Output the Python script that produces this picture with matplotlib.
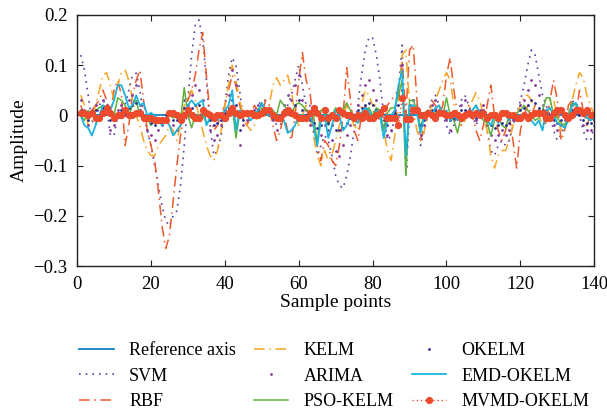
import numpy as np
import matplotlib
matplotlib.use('Agg')
import matplotlib.pyplot as plt

plt.rcParams['font.family'] = ['Liberation Serif', 'DejaVu Serif']

# ── Data ──────────────────────────────────────────────────────────────────────
x = np.arange(1, 141)

svm = [0.12, 0.09, 0.04, -0.01, -0.02, 0.02, 0.03, 0.02, -0.04, -0.04,
       0.0, 0.01, 0.02, 0.05, 0.08, 0.084, 0.05, 0.0, -0.03, -0.06,
       -0.1, -0.14, -0.18, -0.21, -0.22, -0.2, -0.19, -0.14, -0.06, 0.03,
       0.12, 0.18, 0.19, 0.15, 0.07, -0.02, -0.08, -0.07, -0.04, 0.02,
       0.08, 0.115, 0.1, 0.05, -0.01, -0.02, 0.0, 0.01, 0.02, 0.03,
       0.03, 0.02, 0.0, -0.02, -0.02, 0.0, 0.02, 0.04, 0.07, 0.1,
       0.06, 0.02, 0.02, -0.03, -0.08, -0.06, -0.04, -0.05, -0.08, -0.12,
       -0.14, -0.145, -0.12, -0.08, -0.03, 0.02, 0.08, 0.13, 0.155, 0.155,
       0.12, 0.07, 0.0, -0.05, -0.04, 0.0, 0.05, 0.14, -0.12, 0.0,
       0.03, 0.02, -0.06, -0.03, 0.0, 0.03, 0.04, 0.02, 0.0, -0.02,
       -0.04, -0.02, 0.0, 0.03, 0.04, 0.02, 0.0, -0.02, 0.0, 0.02,
       -0.03, -0.07, -0.08, -0.06, -0.05, -0.06, -0.05, -0.02, 0.0, 0.03,
       0.06, 0.1, 0.13, 0.12, 0.08, 0.04, 0.02, 0.0, -0.03, -0.05,
       -0.04, -0.02, 0.0, 0.03, 0.02, 0.0, -0.03, -0.05, -0.05, -0.02]

rbf = [0.02, 0.0, 0.0, 0.01, 0.02, 0.03, 0.05, 0.03, 0.0, 0.05,
       0.07, 0.04, -0.06, -0.02, 0.04, 0.07, 0.09, 0.03, -0.03, -0.06,
       -0.09, -0.15, -0.22, -0.265, -0.24, -0.17, -0.1, -0.04, 0.0, 0.03,
       0.05, 0.08, 0.13, 0.165, 0.08, 0.0, -0.03, -0.02, 0.0, 0.02,
       0.05, 0.08, 0.06, 0.02, 0.0, -0.02, 0.0, 0.02, 0.01, 0.0,
       0.03, 0.02, -0.02, -0.05, -0.03, 0.0, -0.03, -0.05, 0.0, 0.07,
       0.125, 0.07, 0.05, -0.02, -0.06, -0.09, -0.05, -0.06, -0.09, -0.1,
       -0.06, 0.0, 0.095, 0.03, -0.03, -0.05, 0.0, 0.02, 0.0, 0.01,
       0.0, -0.01, 0.0, 0.02, 0.03, 0.04, 0.05, 0.11, 0.0, 0.13,
       0.14, 0.03, -0.05, -0.02, 0.0, 0.03, 0.02, 0.0, 0.02, 0.08,
       0.115, 0.05, 0.0, -0.02, 0.0, 0.02, 0.0, -0.03, -0.05, -0.02,
       0.02, 0.06, 0.0, -0.03, -0.05, -0.03, 0.0, -0.05, -0.105, -0.03,
       0.0, 0.02, 0.0, 0.02, 0.01, 0.0, -0.02, 0.03, 0.07, 0.03,
       -0.05, -0.03, 0.02, 0.03, 0.0, 0.05, 0.01, -0.02, 0.0, 0.01]

kelm = [0.04, 0.02, -0.02, -0.01, 0.02, 0.05, 0.08, 0.085, 0.06, 0.03,
        0.06, 0.085, 0.09, 0.07, 0.03, 0.0, -0.02, -0.05, -0.07, -0.08,
        -0.08, -0.06, -0.05, -0.04, -0.02, -0.03, -0.05, -0.02, 0.02, 0.04,
        0.05, 0.03, 0.0, -0.03, -0.06, -0.08, -0.09, -0.07, -0.03, 0.02,
        0.06, 0.1, 0.07, 0.03, 0.0, -0.02, -0.03, -0.02, 0.0, 0.02,
        0.0, 0.02, 0.06, 0.075, 0.06, 0.07, 0.08, 0.05, 0.0, -0.02,
        0.0, 0.02, 0.0, -0.04, -0.08, -0.1, -0.07, -0.09, -0.08, -0.05,
        -0.02, 0.0, 0.02, 0.0, -0.02, -0.03, 0.02, 0.05, 0.04, 0.02,
        0.02, 0.0, -0.03, -0.07, -0.09, -0.04, 0.02, 0.12, 0.13, 0.02,
        0.01, -0.03, -0.05, -0.03, 0.0, 0.02, 0.03, 0.05, 0.07, 0.085,
        0.07, 0.02, -0.01, -0.02, -0.01, 0.01, 0.03, 0.045, 0.03, 0.0,
        -0.03, -0.08, -0.105, -0.08, -0.07, -0.07, -0.05, -0.02, 0.0, 0.02,
        0.04, 0.04, 0.03, 0.01, 0.0, -0.02, 0.0, 0.02, 0.03, 0.0,
        -0.03, -0.02, 0.0, 0.03, 0.06, 0.085, 0.075, 0.04, 0.02, 0.0]

arima = [0.03, 0.01, -0.02, 0.01, 0.02, 0.0, 0.03, 0.02, -0.03, -0.02,
         0.01, 0.02, 0.0, 0.03, 0.04, 0.06, 0.02, -0.01, -0.03, -0.04,
         -0.05, -0.03, -0.02, -0.01, 0.0, -0.02, -0.03, 0.0, 0.03, 0.02,
         0.04, 0.06, 0.05, 0.03, 0.0, -0.03, -0.05, -0.04, -0.02, 0.01,
         0.04, 0.09, 0.06, -0.06, -0.02, -0.01, 0.0, 0.01, 0.02, 0.02,
         0.01, 0.0, -0.01, -0.03, -0.01, 0.02, 0.04, 0.03, 0.06, 0.08,
         0.03, 0.01, -0.02, -0.03, -0.05, -0.04, -0.02, -0.03, -0.05, -0.07,
         -0.08, -0.06, -0.04, -0.02, 0.0, 0.02, 0.04, 0.06, 0.07, 0.05,
         0.03, 0.01, -0.02, -0.04, -0.03, 0.01, 0.04, 0.1, -0.1, 0.02,
         0.03, 0.01, -0.04, -0.02, 0.0, 0.02, 0.03, 0.01, 0.0, -0.01,
         -0.03, -0.01, 0.0, 0.02, 0.03, 0.01, 0.0, -0.01, 0.01, 0.02,
         -0.02, -0.04, -0.05, -0.04, -0.03, -0.04, -0.03, -0.01, 0.0, 0.02,
         0.03, 0.05, 0.07, 0.06, 0.04, 0.02, 0.01, 0.0, -0.02, -0.03,
         -0.02, -0.01, 0.0, 0.02, 0.01, 0.0, -0.02, -0.03, -0.03, -0.01]

pso_kelm = [0.0, -0.01, 0.01, 0.0, 0.01, 0.015, 0.02, 0.015, 0.005, 0.0,
            0.035, 0.03, 0.02, 0.0, 0.02, 0.03, 0.0, -0.01, -0.005, -0.02,
            -0.01, -0.005, -0.015, -0.01, 0.0, -0.005, 0.0, -0.01, 0.055, 0.0,
            -0.025, 0.0, -0.01, 0.0, -0.015, -0.01, 0.0, -0.005, 0.0, 0.0,
            0.01, 0.02, -0.045, 0.005, 0.0, 0.005, 0.0, 0.005, 0.01, 0.015,
            0.0, 0.005, 0.01, 0.0, 0.03, 0.02, 0.01, 0.0, 0.02, 0.025,
            0.02, 0.01, 0.005, 0.0, -0.055, 0.01, 0.015, -0.02, 0.0, 0.015,
            0.0, 0.01, 0.025, 0.01, -0.01, 0.0, 0.005, 0.01, 0.015, 0.0,
            0.015, 0.01, -0.03, 0.005, 0.015, 0.015, 0.04, 0.07, -0.12, 0.03,
            0.03, 0.01, -0.025, 0.005, 0.01, 0.0, 0.005, 0.01, 0.0, 0.035,
            0.0, -0.01, -0.035, 0.0, -0.005, 0.0, 0.01, 0.02, 0.0, -0.01,
            -0.015, -0.04, -0.01, -0.005, -0.02, -0.025, 0.0, 0.0, 0.005, 0.01,
            0.02, 0.01, 0.0, -0.01, -0.005, 0.01, 0.035, 0.035, 0.0, -0.005,
            -0.015, -0.02, 0.0, 0.025, 0.02, 0.005, 0.0, -0.005, 0.0, 0.0]

okelm = [0.01, 0.0, -0.01, 0.005, 0.01, 0.0, 0.015, 0.01, -0.01, -0.005,
         0.0, 0.01, 0.005, 0.015, 0.02, 0.025, 0.01, -0.005, -0.01, -0.015,
         -0.02, -0.01, -0.01, 0.0, 0.005, -0.01, -0.01, 0.0, 0.015, 0.01,
         0.015, 0.02, 0.02, 0.01, 0.0, -0.01, -0.02, -0.015, -0.01, 0.005,
         0.015, 0.03, 0.02, -0.03, -0.01, 0.0, 0.005, 0.005, 0.01, 0.01,
         0.005, 0.0, -0.005, -0.01, 0.0, 0.01, 0.015, 0.01, 0.02, 0.03,
         0.01, 0.0, -0.01, -0.015, -0.025, -0.02, -0.01, -0.015, -0.02, -0.03,
         -0.03, -0.025, -0.015, -0.005, 0.0, 0.01, 0.015, 0.02, 0.025, 0.02,
         0.01, 0.005, -0.01, -0.02, -0.01, 0.005, 0.02, 0.05, -0.06, 0.01,
         0.015, 0.005, -0.02, -0.01, 0.0, 0.01, 0.01, 0.005, 0.0, -0.005,
         -0.01, -0.005, 0.0, 0.01, 0.01, 0.005, 0.0, -0.005, 0.005, 0.01,
         -0.01, -0.02, -0.025, -0.02, -0.015, -0.02, -0.015, -0.005, 0.0, 0.01,
         0.015, 0.02, 0.03, 0.025, 0.015, 0.01, 0.005, 0.0, -0.01, -0.015,
         -0.01, -0.005, 0.0, 0.01, 0.005, 0.0, -0.01, -0.015, -0.015, -0.005]

emd_okelm = [0.0, -0.02, -0.025, -0.04, -0.02, 0.0, 0.02, 0.015, 0.01, 0.03,
             0.06, 0.06, 0.04, 0.015, 0.02, 0.04, 0.02, 0.025, 0.0, 0.005,
             0.0, -0.01, -0.02, -0.01, -0.02, -0.04, -0.03, -0.02, 0.0, 0.02,
             0.03, 0.02, 0.025, 0.03, -0.02, -0.005, 0.0, -0.01, 0.0, 0.01,
             0.02, 0.05, -0.03, 0.01, 0.005, 0.0, -0.01, 0.0, 0.01, 0.025,
             0.01, 0.0, -0.005, -0.01, 0.0, -0.01, -0.035, -0.03, -0.02, 0.0,
             0.0, -0.01, 0.0, -0.02, -0.06, -0.01, 0.0, -0.045, -0.02, 0.01,
             0.0, -0.03, -0.02, 0.0, -0.01, -0.015, 0.005, 0.015, 0.01, -0.01,
             0.01, 0.0, -0.045, -0.01, 0.0, 0.01, 0.06, 0.09, -0.08, 0.02,
             0.02, 0.005, -0.035, 0.0, 0.01, 0.0, 0.015, 0.02, 0.0, 0.01,
             -0.01, 0.0, -0.01, 0.0, -0.005, 0.005, 0.01, 0.02, 0.005, 0.0,
             -0.01, -0.02, 0.0, -0.015, 0.005, 0.0, -0.01, 0.0, 0.0, 0.0,
             0.0, 0.0, -0.01, -0.02, -0.01, -0.03, 0.01, 0.015, 0.0, -0.015,
             -0.02, -0.025, -0.01, 0.02, 0.025, 0.01, 0.005, -0.005, -0.01, -0.005]

mvmd_okelm = [0.005, 0.005, 0.0, 0.005, -0.005, -0.005, 0.005, 0.015, 0.005, -0.005,
              0.0, 0.0, 0.01, 0.0, 0.0, 0.005, 0.005, -0.005, -0.005, -0.005,
              -0.01, -0.01, -0.01, -0.01, 0.005, 0.005, 0.0, -0.01, 0.0, 0.01,
              0.0, -0.005, -0.005, 0.01, 0.005, 0.0, -0.005, 0.0, 0.0, -0.005,
              0.005, 0.015, 0.005, 0.0, 0.005, 0.005, 0.005, 0.0, 0.0, 0.005,
              0.01, 0.01, 0.0, -0.005, -0.005, 0.005, 0.01, 0.005, 0.0, -0.005,
              -0.005, -0.005, 0.005, 0.015, 0.005, -0.005, 0.01, -0.005, 0.0, -0.005,
              0.01, 0.005, 0.0, 0.0, -0.005, 0.0, -0.005, 0.005, -0.005, -0.005,
              0.0, 0.005, 0.015, -0.005, -0.005, -0.005, -0.02, 0.035, -0.008, -0.008,
              0.01, 0.01, 0.0, 0.0, 0.005, 0.0, -0.005, 0.005, 0.005, 0.0,
              0.0, 0.005, 0.0, -0.005, 0.0, 0.005, 0.0, 0.005, 0.0, 0.005,
              -0.005, 0.0, 0.0, -0.005, 0.005, 0.005, 0.0, 0.0, -0.005, -0.005,
              0.0, -0.005, 0.0, 0.005, 0.005, 0.005, -0.005, -0.005, 0.005, 0.01,
              0.01, 0.0, -0.005, 0.0, 0.01, 0.01, 0.005, 0.01, 0.0, 0.0]

x_ticks = [0, 20, 40, 60, 80, 100, 120, 140]
y_ticks = [-0.3, -0.2, -0.1, 0, 0.1, 0.2]
y_tick_labels = ['−0.3', '−0.2', '−0.1', '0', '0.1', '0.2']

# ── Drawing ───────────────────────────────────────────────────────────────────
fig = plt.figure(figsize=(6.07, 4.15), dpi=100)
ax = fig.add_axes([0.127, 0.359, 0.852, 0.605])

ax.plot([0, 140], [0, 0], color='#0072BD', lw=1.2, label='Reference axis')
ax.plot(x, svm, color='#5A3FA0', ls=(0, (1, 3)), lw=1.2, label='SVM')
ax.plot(x, rbf, color='#EE5A2B', ls=(0, (7, 3, 1, 3)), lw=1.1, label='RBF')
ax.plot(x, kelm, color='#F7A623', ls=(0, (7, 3, 1, 3)), lw=1.1, label='KELM')
ax.plot(x, arima, color='#8A3C9A', ls='none', marker='.', ms=2, label='ARIMA')
ax.plot(x, pso_kelm, color='#5DB13C', lw=1.1, label='PSO-KELM')
ax.plot(x, okelm, color='#2E2F8F', ls='none', marker='.', ms=2, label='OKELM')
ax.plot(x, emd_okelm, color='#1CB4DE', lw=1.3, label='EMD-OKELM')
ax.plot(x, mvmd_okelm, color='#EE4A2C', ls=(0, (1, 2)), lw=1.0,
        marker='o', ms=4.2, label='MVMD-OKELM')

ax.set_xlim(0, 140)
ax.set_ylim(-0.3, 0.2)
ax.set_xticks(x_ticks)
ax.set_yticks(y_ticks)
ax.set_yticklabels(y_tick_labels)
ax.tick_params(direction='in', top=True, right=True, labelsize=13.5, length=4,
               color='#222222', pad=7)
for spine in ax.spines.values():
    spine.set_color('#222222')
    spine.set_linewidth(1.0)
ax.set_xlabel('Sample points', fontsize=14, labelpad=1)
ax.set_ylabel('Amplitude', fontsize=14, labelpad=4)

fig.legend(loc='upper left', bbox_to_anchor=(0.104, 0.215), ncol=3, frameon=False,
           fontsize=13, handlelength=1.9, columnspacing=1.0,
           labelspacing=0.47, handletextpad=0.85)

fig.savefig('out.png', dpi=100)
